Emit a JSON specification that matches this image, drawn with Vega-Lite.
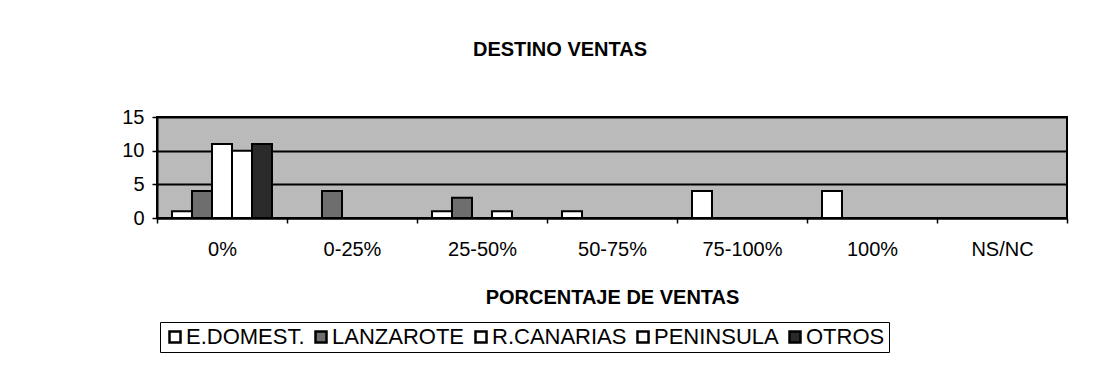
{
  "$schema": "https://vega.github.io/schema/vega-lite/v6.json",
  "autosize": "none",
  "width": 910,
  "height": 101,
  "padding": {"left": 157, "top": 117, "right": 28, "bottom": 159},
  "background": "white",
  "title": {
    "text": "DESTINO VENTAS",
    "font": "Liberation Sans",
    "fontSize": 20,
    "fontWeight": "bold",
    "color": "black",
    "anchor": "middle",
    "dx": -52,
    "offset": 47
  },
  "data": {
    "values": [
      {"cat": "0%", "serie": "E.DOMEST.", "n": 1},
      {"cat": "0%", "serie": "LANZAROTE", "n": 4},
      {"cat": "0%", "serie": "R.CANARIAS", "n": 11},
      {"cat": "0%", "serie": "PENINSULA", "n": 10},
      {"cat": "0%", "serie": "OTROS", "n": 11},
      {"cat": "0-25%", "serie": "LANZAROTE", "n": 4},
      {"cat": "25-50%", "serie": "E.DOMEST.", "n": 1},
      {"cat": "25-50%", "serie": "LANZAROTE", "n": 3},
      {"cat": "25-50%", "serie": "PENINSULA", "n": 1},
      {"cat": "50-75%", "serie": "E.DOMEST.", "n": 1},
      {"cat": "75-100%", "serie": "E.DOMEST.", "n": 4},
      {"cat": "100%", "serie": "E.DOMEST.", "n": 4}
    ]
  },
  "mark": {"type": "bar", "stroke": "black", "strokeWidth": 2},
  "encoding": {
    "x": {
      "field": "cat",
      "type": "nominal",
      "sort": ["0%", "0-25%", "25-50%", "50-75%", "75-100%", "100%", "NS/NC"],
      "scale": {"domain": ["0%", "0-25%", "25-50%", "50-75%", "75-100%", "100%", "NS/NC"], "paddingInner": 0, "paddingOuter": 0},
      "axis": {
        "title": "PORCENTAJE DE VENTAS",
        "titleFont": "Liberation Sans",
        "titleFontSize": 20,
        "titleFontWeight": "bold",
        "titleColor": "black",
        "titlePadding": 28,
        "labelAngle": 0,
        "labelFont": "Liberation Sans",
        "labelFontSize": 20,
        "labelColor": "black",
        "labelPadding": 16,
        "tickBand": "extent",
        "tickSize": 5,
        "tickColor": "black",
        "tickWidth": 1.5,
        "domainColor": "black",
        "domainWidth": 2,
        "grid": false
      }
    },
    "xOffset": {
      "field": "serie",
      "type": "nominal",
      "sort": ["E.DOMEST.", "LANZAROTE", "R.CANARIAS", "PENINSULA", "OTROS"],
      "scale": {"domain": ["E.DOMEST.", "LANZAROTE", "R.CANARIAS", "PENINSULA", "OTROS"], "paddingInner": 0, "paddingOuter": 0.75}
    },
    "y": {
      "field": "n",
      "type": "quantitative",
      "scale": {"domain": [0, 15], "nice": false},
      "axis": {
        "title": null,
        "values": [0, 5, 10, 15],
        "labelFont": "Liberation Sans",
        "labelFontSize": 20,
        "labelColor": "black",
        "labelPadding": 8,
        "tickSize": 5,
        "tickColor": "black",
        "tickWidth": 1.5,
        "domainColor": "black",
        "domainWidth": 2,
        "grid": true,
        "gridColor": "black",
        "gridWidth": 2
      }
    },
    "fill": {
      "field": "serie",
      "type": "nominal",
      "sort": ["E.DOMEST.", "LANZAROTE", "R.CANARIAS", "PENINSULA", "OTROS"],
      "scale": {
        "domain": ["E.DOMEST.", "LANZAROTE", "R.CANARIAS", "PENINSULA", "OTROS"],
        "range": ["#ffffff", "#6e6e6e", "#ffffff", "#ffffff", "#2a2a2a"]
      },
      "legend": {
        "title": null,
        "orient": "none",
        "legendX": 3,
        "legendY": 205,
        "direction": "horizontal",
        "symbolType": "square",
        "symbolSize": 121,
        "symbolStrokeColor": "black",
        "symbolStrokeWidth": 2.5,
        "labelFont": "Liberation Sans",
        "labelFontSize": 22,
        "labelColor": "black",
        "labelOffset": 0,
        "columnPadding": 5,
        "strokeColor": "black",
        "padding": 4
      }
    }
  },
  "config": {
    "view": {"fill": "#bababa", "stroke": "black", "strokeWidth": 2}
  }
}
